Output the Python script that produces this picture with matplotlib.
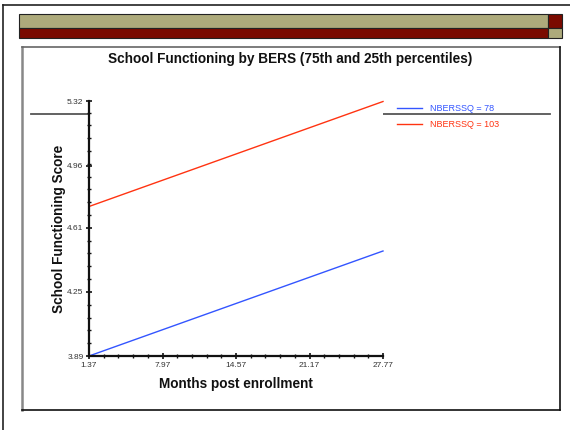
import matplotlib
matplotlib.use("Agg")
import matplotlib.pyplot as plt
from matplotlib.patches import Rectangle
from matplotlib.ticker import AutoMinorLocator

plt.rcParams['font.family'] = ['Liberation Sans', 'DejaVu Sans']

# ---- data ----
months = [1.37, 27.77]
score_78 = [3.89, 4.48]
score_103 = [4.73, 5.32]
series_labels = ["NBERSSQ = 78", "NBERSSQ = 103"]
series_colors = ["#3355ff", "#ff3311"]
x_ticks = [1.37, 7.97, 14.57, 21.17, 27.77]
y_ticks = [3.89, 4.25, 4.61, 4.96, 5.32]
title = "School Functioning by BERS (75th and 25th percentiles)"
xlabel = "Months post enrollment"
ylabel = "School Functioning Score"

W, H = 570, 430
fig = plt.figure(figsize=(W / 100, H / 100), dpi=100)

# ---- slide decoration layer (pixel coordinates) ----
bg = fig.add_axes([0, 0, 1, 1], zorder=0)
bg.set_xlim(0, W)
bg.set_ylim(H, 0)
bg.axis('off')
olive = "#adaa7b"
dred = "#7a0a00"
# outer frame
bg.plot([3, 3], [5, H], color="#222222", lw=1.2)
bg.plot([3, W], [5, 5], color="#222222", lw=1.2)
# decorative bars
bg.add_patch(Rectangle((19, 14), 529, 14, facecolor=olive, edgecolor="#222222", lw=0.8))
bg.add_patch(Rectangle((19, 28), 529, 10, facecolor=dred, edgecolor="#222222", lw=0.8))
bg.add_patch(Rectangle((548, 14), 14, 14, facecolor=dred, edgecolor="#222222", lw=0.8))
bg.add_patch(Rectangle((548, 28), 14, 10, facecolor=olive, edgecolor="#222222", lw=0.8))
# chart panel
bg.add_patch(Rectangle((22, 47), 538, 363, facecolor="white", edgecolor="none"))
bg.plot([22, 22], [47, 410], color="#888888", lw=1.8)
bg.plot([22, 560], [47, 47], color="#666666", lw=1.2)
bg.plot([560, 560], [47, 410], color="#111111", lw=1.2)
bg.plot([22, 560], [410, 410], color="#111111", lw=1.2)
# slide line
bg.plot([31, 550], [114, 114], color="#555555", lw=1.3)

# title
fig.text(290 / W, 1 - 59 / H, title, ha='center', va='center',
         fontsize=9.8, fontweight='bold', color='#111111')

# ---- chart axes ----
x0, x1 = 89, 383
y0, y1 = 356, 101.5
ax = fig.add_axes([x0 / W, 1 - y0 / H, (x1 - x0) / W, (y0 - y1) / H], zorder=2)
ax.set_facecolor('white')

ax.plot(months, score_78, color=series_colors[0], lw=1.0, clip_on=False, label=series_labels[0])
ax.plot(months, score_103, color=series_colors[1], lw=1.0, clip_on=False, label=series_labels[1])

ax.set_xlim(months[0], months[-1])
ax.set_ylim(y_ticks[0], y_ticks[-1])
ax.set_xticks(x_ticks)
ax.set_xticklabels([f"{v:.2f}" for v in x_ticks])
ax.set_yticks(y_ticks)
ax.set_yticklabels([f"{v:.2f}" for v in y_ticks])
ax.xaxis.set_minor_locator(AutoMinorLocator(5))
ax.yaxis.set_minor_locator(AutoMinorLocator(5))
ax.tick_params(which='major', direction='inout', length=5, width=1.2, color='#111111',
               labelsize=6, labelcolor='#333333', pad=1.5)
ax.tick_params(which='minor', direction='inout', length=3.5, width=1.0, color='#111111')

for s in ['top', 'right']:
    ax.spines[s].set_visible(False)
for s in ['left', 'bottom']:
    ax.spines[s].set_linewidth(1.6)
    ax.spines[s].set_color('#111111')

ax.set_xlabel(xlabel, fontsize=9.8, fontweight='bold', color='#111111', labelpad=6)
ax.set_ylabel(ylabel, fontsize=9.8, fontweight='bold', color='#111111', labelpad=1)

leg = ax.legend(loc='upper left', bbox_to_anchor=(397 / W, 1 - 104 / H),
                bbox_transform=fig.transFigure, frameon=False, fontsize=6.5,
                handlelength=2.8, handletextpad=0.9, labelspacing=0.75,
                borderaxespad=0, borderpad=0)
for t, c in zip(leg.get_texts(), series_colors):
    t.set_color(c)

fig.savefig("out.png", dpi=100)
